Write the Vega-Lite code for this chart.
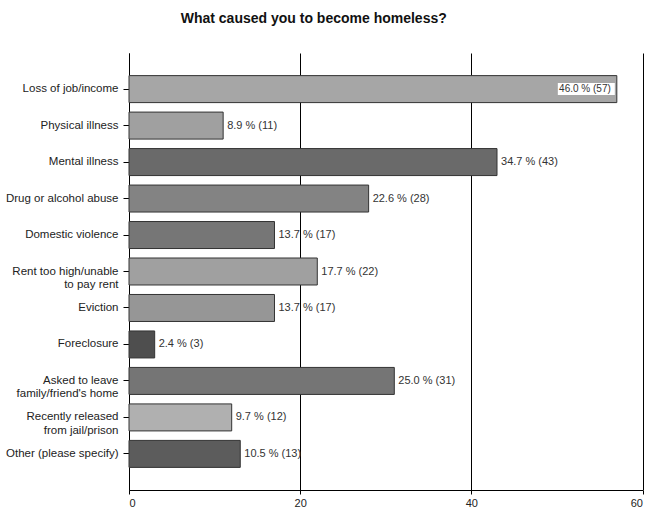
{
  "$schema": "https://vega.github.io/schema/vega-lite/v6.json",
  "width": 513.5,
  "height": 437,
  "autosize": {"type": "none"},
  "padding": {"left": 129, "top": 53, "right": 9.5, "bottom": 17},
  "background": "white",
  "title": {
    "text": "What caused you to become homeless?",
    "fontSize": 14,
    "fontWeight": "bold",
    "font": "Liberation Sans",
    "color": "#111",
    "anchor": "middle",
    "dx": -72,
    "offset": 27
  },
  "config": {
    "view": {"stroke": null},
    "axis": {"labelFont": "Liberation Sans", "labelColor": "#222", "domainColor": "#000", "tickColor": "#000"}
  },
  "data": {
    "values": [
      {"cause": "Loss of job/income", "count": 57, "pct": "46.0 % (57)"},
      {"cause": "Physical illness", "count": 11, "pct": "8.9 % (11)"},
      {"cause": "Mental illness", "count": 43, "pct": "34.7 % (43)"},
      {"cause": "Drug or alcohol abuse", "count": 28, "pct": "22.6 % (28)"},
      {"cause": "Domestic violence", "count": 17, "pct": "13.7 % (17)"},
      {"cause": "Rent too high/unable to pay rent", "count": 22, "pct": "17.7 % (22)"},
      {"cause": "Eviction", "count": 17, "pct": "13.7 % (17)"},
      {"cause": "Foreclosure", "count": 3, "pct": "2.4 % (3)"},
      {"cause": "Asked to leave family/friend's home", "count": 31, "pct": "25.0 % (31)"},
      {"cause": "Recently released from jail/prison", "count": 12, "pct": "9.7 % (12)"},
      {"cause": "Other (please specify)", "count": 13, "pct": "10.5 % (13)"}
    ]
  },
  "encoding": {
    "y": {
      "field": "cause",
      "type": "nominal",
      "sort": null,
      "title": null,
      "scale": {"paddingInner": 0.26, "paddingOuter": 0.62},
      "axis": {
        "labelFontSize": 11.5,
        "tickSize": 6,
        "labelPadding": 5,
        "labelLimit": 200,
        "labelExpr": "datum.value == 'Rent too high/unable to pay rent' ? ['Rent too high/unable', 'to pay rent'] : datum.value == \"Asked to leave family/friend's home\" ? ['Asked to leave', \"family/friend's home\"] : datum.value == 'Recently released from jail/prison' ? ['Recently released', 'from jail/prison'] : datum.value"
      }
    }
  },
  "layer": [
    {
      "mark": {"type": "bar", "stroke": "#333", "strokeWidth": 1},
      "encoding": {
        "x": {
          "field": "count",
          "type": "quantitative",
          "title": null,
          "scale": {"domain": [0, 60], "nice": false},
          "axis": {
            "values": [0, 20, 40, 60],
            "grid": true,
            "gridColor": "#000",
            "gridOpacity": 1,
            "gridWidth": 1,
            "tickSize": 4,
            "labelFontSize": 11,
            "labelPadding": 3
          }
        },
        "color": {
          "field": "cause",
          "type": "nominal",
          "legend": null,
          "scale": {
            "domain": ["Loss of job/income", "Physical illness", "Mental illness", "Drug or alcohol abuse", "Domestic violence", "Rent too high/unable to pay rent", "Eviction", "Foreclosure", "Asked to leave family/friend's home", "Recently released from jail/prison", "Other (please specify)"],
            "range": ["#a6a6a6", "#a0a0a0", "#6a6a6a", "#838383", "#767676", "#a0a0a0", "#969696", "#4e4e4e", "#757575", "#b0b0b0", "#5c5c5c"]
          }
        }
      }
    },
    {
      "transform": [{"filter": "datum.count > 50"}],
      "mark": {"type": "bar", "color": "white", "height": 12, "xOffset": -59, "x2Offset": -2},
      "encoding": {
        "x": {"field": "count", "type": "quantitative"},
        "x2": {"field": "count"}
      }
    },
    {
      "transform": [{"filter": "datum.count > 50"}],
      "mark": {"type": "text", "align": "right", "dx": -6, "font": "Liberation Sans", "fontSize": 10, "color": "#333"},
      "encoding": {
        "x": {"field": "count", "type": "quantitative"},
        "text": {"field": "pct"}
      }
    },
    {
      "transform": [{"filter": "datum.count <= 50"}],
      "mark": {"type": "text", "align": "left", "dx": 4, "font": "Liberation Sans", "fontSize": 11, "color": "#333"},
      "encoding": {
        "x": {"field": "count", "type": "quantitative"},
        "text": {"field": "pct"}
      }
    }
  ]
}
